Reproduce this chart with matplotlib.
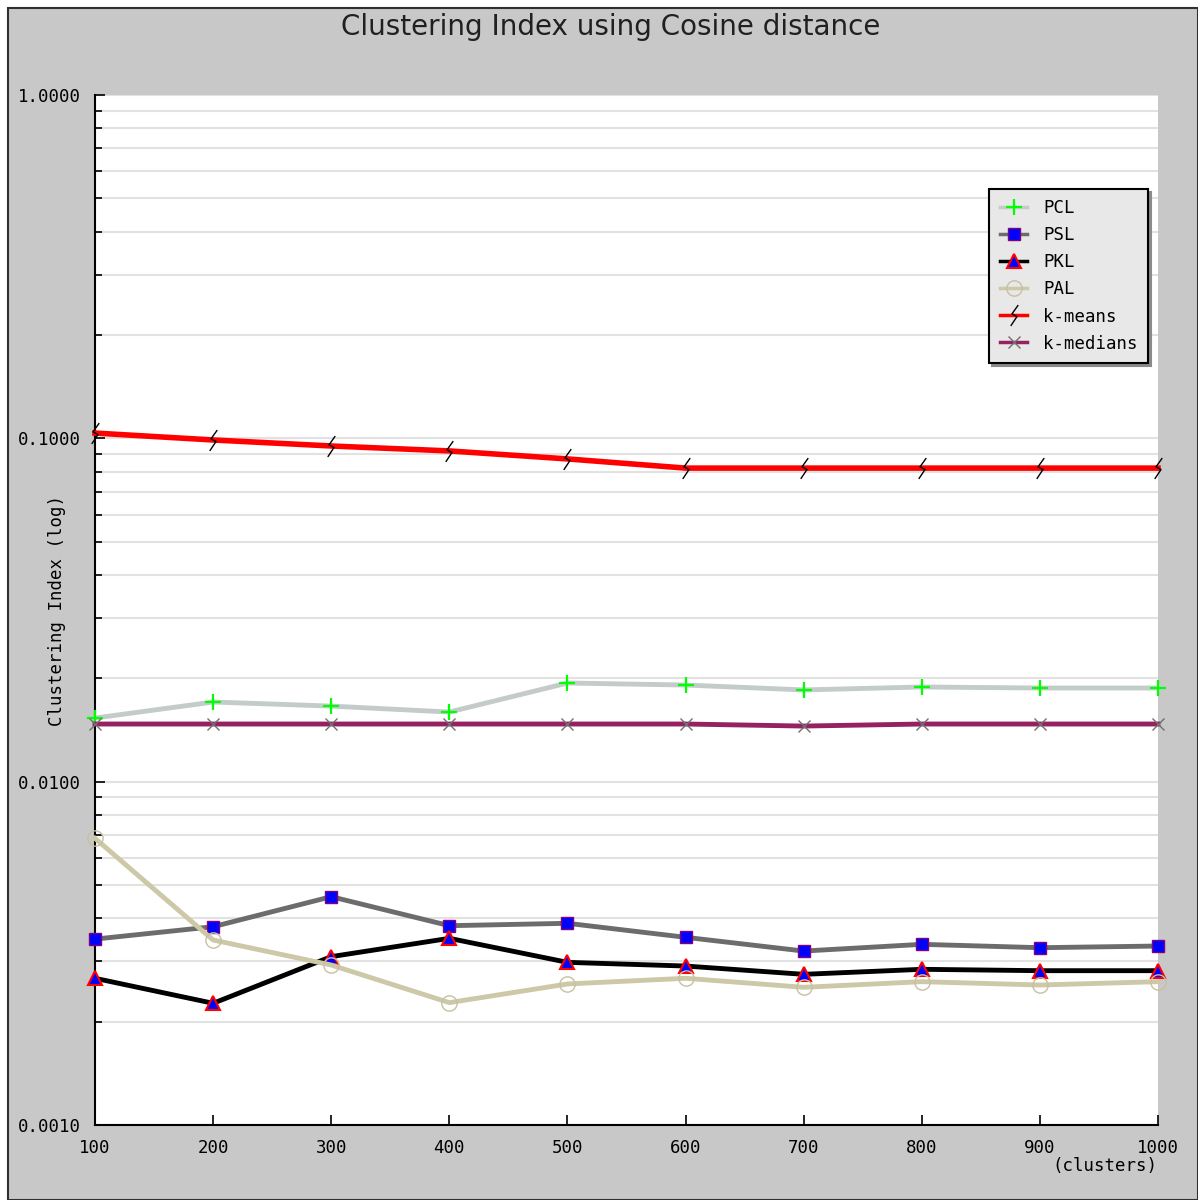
import matplotlib
matplotlib.use("Agg")
import matplotlib.pyplot as plt
from matplotlib.path import Path
from matplotlib.patches import Rectangle
from matplotlib.ticker import LogLocator, NullFormatter, FixedLocator

clusters = [100, 200, 300, 400, 500, 600, 700, 800, 900, 1000]

pcl = [0.01532, 0.01706, 0.01660, 0.01595, 0.01938, 0.01912, 0.01850, 0.01887, 0.01874, 0.01874]
psl = [0.003479, 0.003780, 0.004624, 0.003806, 0.003868, 0.003521, 0.003211, 0.003359, 0.003284, 0.003321]
pkl = [0.002675, 0.002262, 0.003093, 0.003497, 0.002977, 0.002904, 0.002747, 0.002841, 0.002815, 0.002815]
pal = [0.006839, 0.003458, 0.002924, 0.002272, 0.002575, 0.002675, 0.002518, 0.002615, 0.002557, 0.002615]
kmeans = [0.1036, 0.0989, 0.0950, 0.0919, 0.0871, 0.0819, 0.0819, 0.0819, 0.0819, 0.0819]
kmedians = [0.01472, 0.01472, 0.01472, 0.01472, 0.01472, 0.01472, 0.01452, 0.01472, 0.01472, 0.01472]

y_ticks = [0.001, 0.01, 0.1, 1.0]
y_tick_labels = ["0.0010", "0.0100", "0.1000", "1.0000"]

BG = "#c8c8c8"
MONO = "DejaVu Sans Mono"

fig = plt.figure(figsize=(11.98, 12.0), dpi=100)
fig.patch.set_facecolor("white")

# grey panel with dark frame, kept behind the axes
fig.patches.append(Rectangle((8 / 1198, 0.5 / 1200), (1197.5 - 8) / 1198, (1192 - 0.5) / 1200,
                             transform=fig.transFigure, facecolor=BG, edgecolor="#303030",
                             linewidth=1.5, zorder=-10))

ax = fig.add_axes([95 / 1198, 1 - 1125 / 1200, (1158 - 95) / 1198, (1125 - 95) / 1200])
ax.set_zorder(1)
ax.set_facecolor("white")
ax.set_yscale("log")
ax.set_ylim(0.001, 1.0)
ax.set_xlim(100, 1000)

# zig-zag marker for k-means
zig = Path([(0.18, 0.5), (-0.12, 0.08), (0.12, -0.05), (-0.18, -0.5)],
           [Path.MOVETO, Path.LINETO, Path.LINETO, Path.LINETO])

series = [
    ("PCL", pcl, dict(color="#c3cccb", lw=3.5, marker="+", ms=12, mec="#00ff00", mew=1.6)),
    ("PSL", psl, dict(color="#6c6c6c", lw=3.5, marker="s", ms=9, mfc="#0000ff", mec="#800080", mew=1.0)),
    ("PKL", pkl, dict(color="#000000", lw=3.5, marker="^", ms=10, mfc="#0000ff", mec="#ff0000", mew=1.5)),
    ("PAL", pal, dict(color="#cdc8a8", lw=3.5, marker="o", ms=11, mfc="none", mec="#c8c0a0", mew=1.0)),
    ("k-means", kmeans, dict(color="#ff0000", lw=4.0, marker=zig, ms=15, mfc="none", mec="#000000", mew=1.0)),
    ("k-medians", kmedians, dict(color="#952062", lw=3.5, marker="x", ms=8, mec="#707070", mew=1.0)),
]
for name, vals, st in series:
    ax.plot(clusters, vals, label=name, clip_on=False, zorder=3, **st)

# axes styling
for side in ("top", "right"):
    ax.spines[side].set_visible(False)
for side in ("left", "bottom"):
    ax.spines[side].set_color("black")
    ax.spines[side].set_linewidth(1.5)

ax.xaxis.set_major_locator(FixedLocator(clusters))
ax.set_xticklabels([str(c) for c in clusters])
ax.yaxis.set_major_locator(FixedLocator(y_ticks))
ax.set_yticklabels(y_tick_labels)
ax.yaxis.set_minor_locator(LogLocator(base=10, subs=range(2, 10)))
ax.yaxis.set_minor_formatter(NullFormatter())

ax.tick_params(axis="x", direction="in", length=7, width=1.2, pad=10, labelsize=12.5)
ax.tick_params(axis="y", which="major", direction="in", length=7, width=1.2, pad=10, labelsize=12.5)
ax.tick_params(axis="y", which="minor", direction="in", length=5, width=1.2)
for lab in ax.get_xticklabels() + ax.get_yticklabels():
    lab.set_fontfamily(MONO)

ax.grid(True, axis="y", which="both", color="#e2e2e2", linewidth=1.5, zorder=0)
ax.set_axisbelow(True)

ax.set_ylabel("Clustering Index (log)", fontfamily=MONO, fontsize=12.5)
ax.yaxis.set_label_coords((66 - 95) / 1063, 0.5)

fig.text(0.5095, 1 - 27 / 1200, "Clustering Index using Cosine distance",
         ha="center", va="center", fontsize=20, color="#202020", fontfamily="DejaVu Sans")
fig.text(1105 / 1198, 1 - 1166 / 1200, "(clusters)", ha="center", va="center",
         fontsize=12.5, fontfamily=MONO)

leg = ax.legend(loc="upper right", bbox_to_anchor=((1148 - 95) / 1063, (1125 - 189) / 1030),
                borderaxespad=0, prop={"family": MONO, "size": 12.5}, frameon=True,
                fancybox=False, shadow={"color": "#8a8a8a", "alpha": 1.0},
                handlelength=1.6, labelspacing=0.52, borderpad=0.6, handletextpad=0.9)
frame = leg.get_frame()
frame.set_facecolor("#e8e8e8")
frame.set_edgecolor("black")
frame.set_linewidth(1.5)
frame.set_alpha(1.0)
for line in leg.get_lines():
    line.set_linewidth(2.5)

fig.savefig("out.png", dpi=100, facecolor=fig.get_facecolor())
